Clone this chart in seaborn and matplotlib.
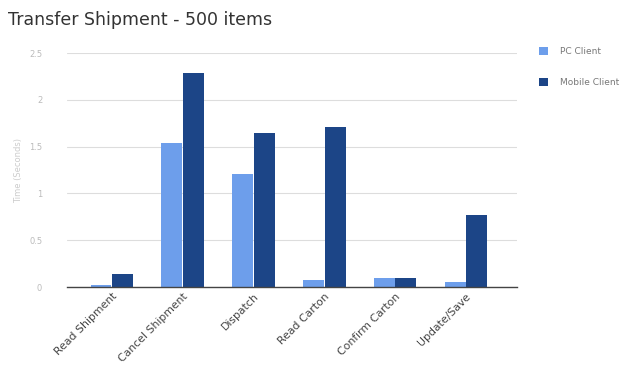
import matplotlib
matplotlib.use("Agg")
import matplotlib.pyplot as plt
import seaborn as sns
import pandas as pd
from matplotlib.patches import Patch

categories = ["Read Shipment", "Cancel Shipment", "Dispatch", "Read Carton", "Confirm Carton", "Update/Save"]
pc_client = [0.02, 1.54, 1.21, 0.07, 0.10, 0.05]
mobile_client = [0.14, 2.29, 1.65, 1.71, 0.10, 0.77]
series_names = ["PC Client", "Mobile Client"]
y_ticks = [0, 0.5, 1, 1.5, 2, 2.5]
y_tick_labels = ["0", "0.5", "1", "1.5", "2", "2.5"]

df = pd.DataFrame({
    "category": categories * 2,
    "series": [series_names[0]] * len(categories) + [series_names[1]] * len(categories),
    "value": pc_client + mobile_client,
})

colors = {"PC Client": "#6d9eeb", "Mobile Client": "#1c4587"}

sns.set_style("white")
fig = plt.figure(figsize=(6.28, 3.71), dpi=100)
ax = fig.add_axes([0.107, 0.2264, 0.716, 0.6306])

sns.barplot(data=df, x="category", y="value", hue="series", order=categories,
            hue_order=series_names, palette=colors, width=0.61, gap=0.03,
            saturation=1, legend=False, edgecolor="none", linewidth=0, ax=ax)

ax.set_xlim(-0.63, 5.72)
ax.set_ylim(0, 2.5)
ax.set_yticks(y_ticks)
ax.set_yticklabels(y_tick_labels, fontsize=6, color="#bbbbbb")
ax.grid(axis="y", color="#dddddd", linewidth=0.8)
ax.set_axisbelow(True)
for s in ["top", "right", "left"]:
    ax.spines[s].set_visible(False)
ax.spines["bottom"].set_color("#444444")
ax.spines["bottom"].set_linewidth(1.0)
ax.tick_params(axis="y", length=0, pad=18)
ax.tick_params(axis="x", length=0, pad=3)
ax.set_xlabel("")
ax.set_ylabel("Time (Seconds)", fontsize=6, color="#cccccc", labelpad=4)
plt.setp(ax.get_xticklabels(), rotation=45, ha="right", rotation_mode="anchor",
         fontsize=7.8, color="#444444")

fig.text(0.013, 0.945, "Transfer Shipment - 500 items", fontsize=12.5, color="#333333",
         ha="left", va="center")

handles = [Patch(facecolor=colors[n], edgecolor="none") for n in series_names]
fig.legend(handles, series_names, loc="upper left", bbox_to_anchor=(0.845, 0.895),
           frameon=False, fontsize=6.5, labelcolor="#777777", handlelength=1.0,
           handleheight=1.0, labelspacing=2.45, handletextpad=1.3)

fig.savefig("out.png", dpi=100)
